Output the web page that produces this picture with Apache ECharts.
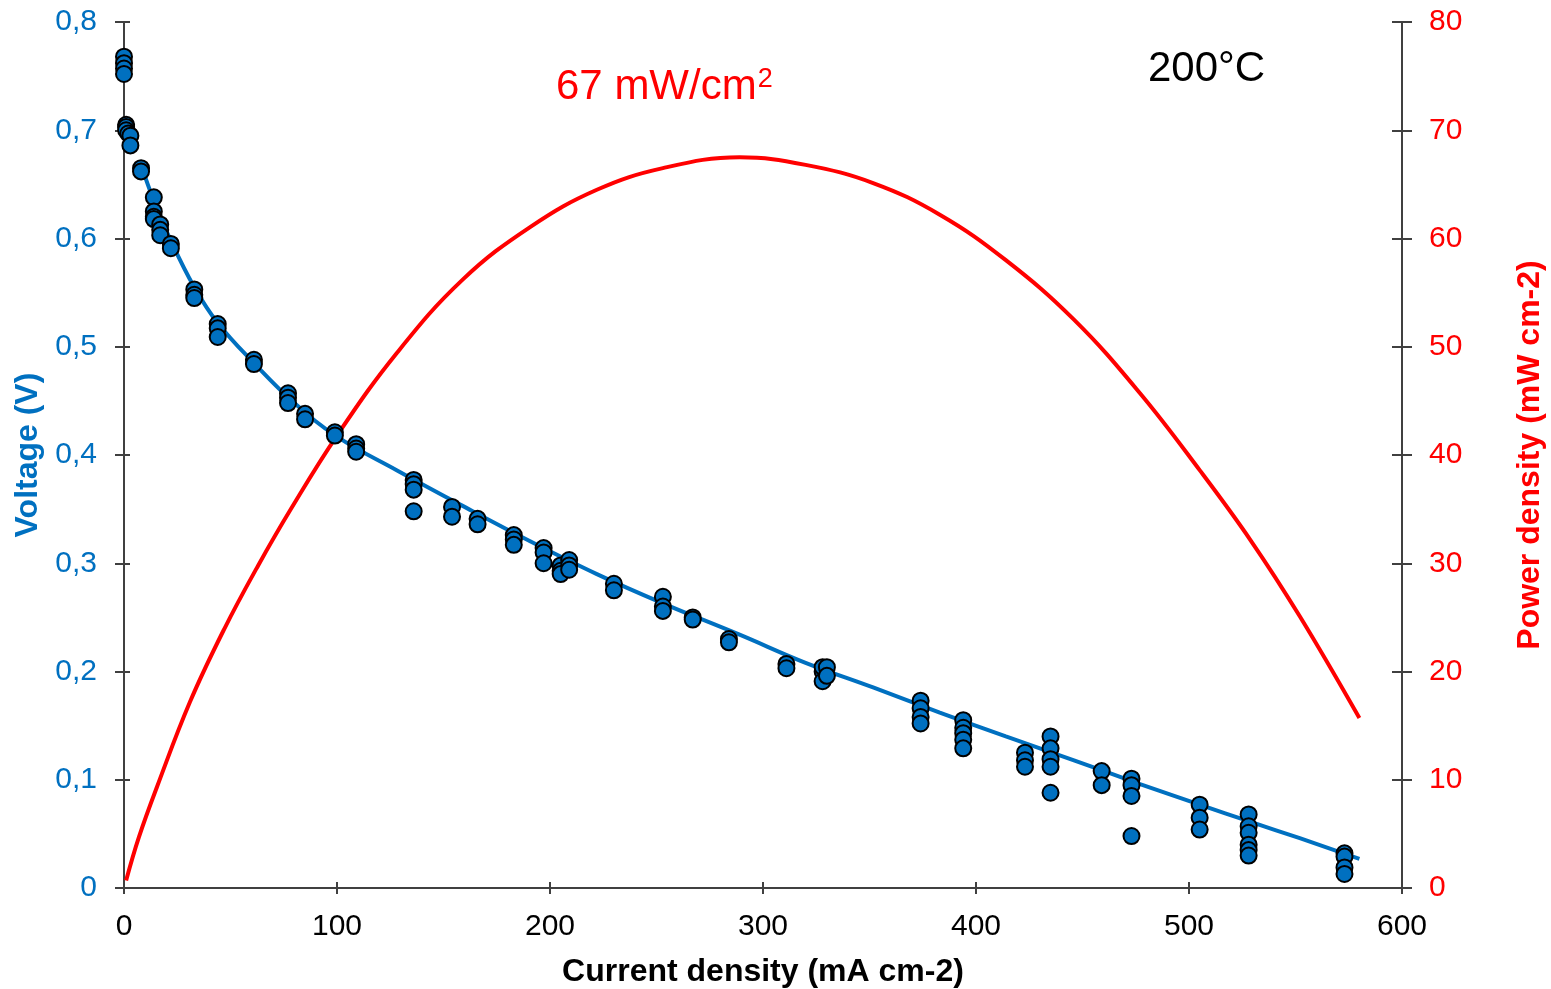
<!DOCTYPE html>
<html>
<head>
<meta charset="utf-8">
<script src="https://cdn.jsdelivr.net/npm/echarts@6/dist/echarts.min.js"></script>
<style>
html,body{margin:0;padding:0;background:#fff;}
#chart{width:1551px;height:989px;}
</style>
</head>
<body>
<div id="chart"></div>
<script>
// Measured points: current density (mA cm-2) and voltage (V)
const measuredJ = [
  0,0,0,0, 1,1,1, 2,3,3, 8,8, 14,14,14,14, 17,17,17, 22,22,
  33,33,33, 44,44,44, 61,61, 77,77,77, 85,85, 99,99, 109,109,109,
  136,136,136,136, 154,154, 166,166, 183,183,183, 197,197,197,
  205,205,205, 209,209,209, 230,230, 253,253,253, 267,267, 284,284,
  311,311, 328,328,328, 330,330, 374,374,374,374,
  394,394,394,394,394, 423,423,423, 435,435,435,435,435,
  459,459, 473,473,473,473, 505,505,505,
  528,528,528,528,528,528, 573,573,573,573
];
const measuredV = [
  0.768,0.762,0.757,0.752, 0.705,0.703,0.700, 0.697,0.695,0.686, 0.665,0.662, 0.638,0.625,0.620,0.618, 0.613,0.608,0.603, 0.595,0.591,
  0.553,0.548,0.545, 0.521,0.517,0.509, 0.488,0.484, 0.457,0.453,0.448, 0.438,0.433, 0.421,0.418, 0.410,0.406,0.403,
  0.377,0.373,0.368,0.348, 0.352,0.343, 0.341,0.336, 0.326,0.322,0.317, 0.314,0.310,0.300,
  0.298,0.293,0.290, 0.303,0.298,0.294, 0.281,0.275, 0.269,0.260,0.256, 0.250,0.248, 0.230,0.227,
  0.207,0.203, 0.200,0.204,0.191, 0.204,0.196, 0.173,0.166,0.158,0.152,
  0.155,0.148,0.143,0.137,0.129, 0.125,0.118,0.112, 0.140,0.129,0.119,0.112,0.088,
  0.108,0.095, 0.101,0.095,0.085,0.048, 0.077,0.065,0.054,
  0.068,0.057,0.051,0.040,0.035,0.030, 0.032,0.029,0.019,0.013
];
// Fitted polarisation curve
const fitJ = [8,14,22,33,44,61,80,100,128,159,190,222,253,289,320,352,383,414,446,477,505,529,552,580];
const fitV = [0.668,0.635,0.598,0.555,0.522,0.485,0.448,0.417,0.386,0.353,0.321,0.290,0.263,0.234,0.208,0.185,0.162,0.140,0.118,0.096,0.077,0.061,0.046,0.027];
// Power density curve (mW cm-2)
const powerJ = [1,7,15.6,31,47,63,78,100,128,159,191,222,253,289,320,352,383,414,446,477,505,529,552,580];
const powerP = [0.7,4.7,9.4,17.2,23.9,29.8,34.9,41.8,49.4,56.2,61.1,64.5,66.5,67.5,66.8,65.1,62.2,58.0,52.5,45.7,38.6,32.1,25.1,15.7];

const xTicks = [0,100,200,300,400,500,600];
const blue = '#0070C0', red = '#FF0000', axisCol = '#404040';
const font = 'Liberation Sans, Arial, sans-serif';

const zip = (a,b) => a.map((v,i)=>[v,b[i]]);
const hidden = {axisLine:{show:false,onZero:false},axisLabel:{show:false},splitLine:{show:false}};

const chart = echarts.init(document.getElementById('chart'));
chart.setOption({
  animation:false,
  backgroundColor:'#fff',
  grid:{left:124,right:149,top:22,bottom:101,containLabel:false,outerBoundsMode:'none'},
  xAxis:[{
    type:'value',min:xTicks[0],max:xTicks[xTicks.length-1],interval:100,
    name:'Current density (mA cm-2)',nameLocation:'middle',nameGap:68,
    nameTextStyle:{fontFamily:font,fontSize:32,fontWeight:'bold',color:'#000'},
    axisLine:{show:true,onZero:false,lineStyle:{color:axisCol,width:2}},
    axisTick:{show:true,length:6,lineStyle:{color:axisCol,width:2}},
    axisLabel:{fontFamily:font,fontSize:30,color:'#000',margin:24},
    splitLine:{show:false}
  },{
    type:'value',min:xTicks[0],max:xTicks[xTicks.length-1],interval:100,position:'bottom',
    axisTick:{show:true,inside:true,length:6,lineStyle:{color:axisCol,width:2}}, ...hidden
  }],
  yAxis:[{
    type:'value',min:0,max:0.8,interval:0.1,position:'left',
    name:'Voltage (V)',nameLocation:'middle',nameGap:80,
    nameTextStyle:{fontFamily:font,fontSize:32,fontWeight:'bold',color:blue},
    axisLine:{show:true,onZero:false,lineStyle:{color:axisCol,width:2}},
    axisTick:{show:true,length:9,lineStyle:{color:axisCol,width:2}},
    axisLabel:{fontFamily:font,fontSize:30,color:blue,margin:27,
      formatter:v=>Number(v.toFixed(1)).toString().replace('.',',')},
    splitLine:{show:false}
  },{
    type:'value',min:0,max:80,interval:10,position:'right',
    name:'Power density (mW cm-2)',nameLocation:'middle',nameGap:112,nameRotate:90,
    nameTextStyle:{fontFamily:font,fontSize:32,fontWeight:'bold',color:red},
    axisLine:{show:true,onZero:false,lineStyle:{color:axisCol,width:2}},
    axisTick:{show:true,length:10,lineStyle:{color:axisCol,width:2}},
    axisLabel:{fontFamily:font,fontSize:30,color:red,margin:27},
    splitLine:{show:false}
  },{
    type:'value',min:0,max:0.8,interval:0.1,position:'left',
    axisTick:{show:true,inside:true,length:6,lineStyle:{color:axisCol,width:2}}, ...hidden
  },{
    type:'value',min:0,max:80,interval:10,position:'right',
    axisTick:{show:true,inside:true,length:10,lineStyle:{color:axisCol,width:2}}, ...hidden
  }],
  series:[{
    type:'line',yAxisIndex:1,data:zip(powerJ,powerP),smooth:0.4,showSymbol:false,
    lineStyle:{color:red,width:4},z:2
  },{
    type:'line',yAxisIndex:0,data:zip(fitJ,fitV),smooth:0.4,showSymbol:false,
    lineStyle:{color:blue,width:4},z:3
  },{
    type:'scatter',yAxisIndex:0,data:zip(measuredJ,measuredV),symbolSize:16,
    itemStyle:{color:blue,borderColor:'#000',borderWidth:2,opacity:1},z:4
  }],
  graphic:[{
    type:'text',left:1148,top:48,
    style:{text:'200°C',font:'42px '+font,fill:'#000'}
  },{
    type:'text',left:556,top:66,
    style:{text:'{a|67 mW/cm}{s|2}',
      rich:{a:{fontSize:42,fontFamily:font,fill:red,color:red},
            s:{fontSize:27,fontFamily:font,fill:red,color:red,verticalAlign:'top',padding:[0,0,14,1]}}}
  }]
});
</script>
</body>
</html>
